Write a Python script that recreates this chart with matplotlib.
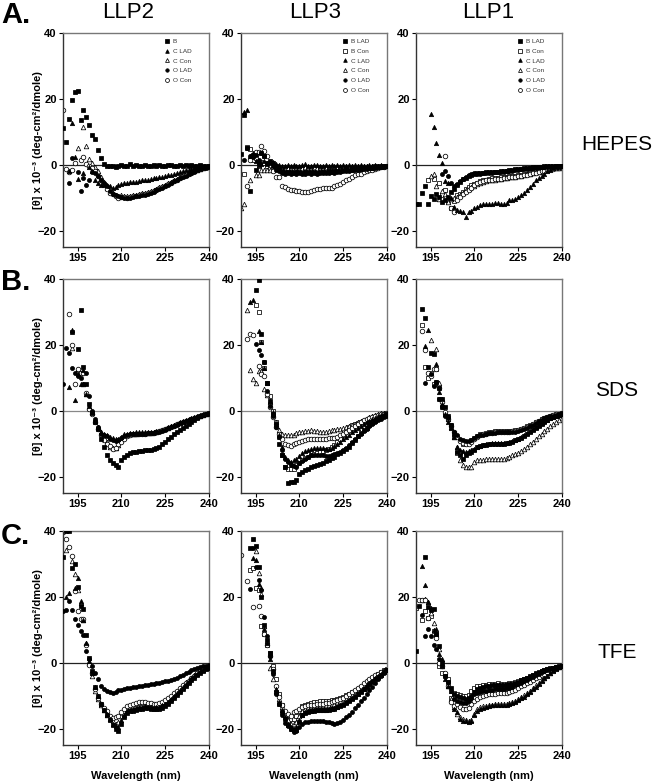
import numpy as np
import matplotlib
matplotlib.use('Agg')
import matplotlib.pyplot as plt

plt.rcParams['font.family'] = ['Liberation Sans', 'DejaVu Sans']

wavelength = np.arange(190, 241)
N = None

# ---------------- Row A: HEPES ----------------
# LLP2
A1_B = [11, 7, 14, 19.6, 22, 22.5, 13.7, 16.6, 14.6, 12,
        9, 7.8, 4.5, 2.1, 0.3, -0.4, -0.5, -0.3, -0.6, -0.4,
        -0.2, -0.5, -0.3, 0.1, -0.4, -0.2, -0.5, -0.3, -0.1, -0.4,
        -0.3, 0, -0.4, -0.2, -0.3, -0.5, -0.2, -0.1, -0.4, -0.3,
        -0.2, -0.4, 0, -0.3, -0.2, -0.4, -0.3, -0.1, -0.3, -0.4, -0.3]
A1_CLAD = [N, N, -2, 12.6, 2.3, -4.2, N, -2.4, N, -0.7,
           -2, -4.7, -5.5, -6.2, -6.3, -6.2, -6.5, -7, -6.8, -6.3,
           -5.8, -5.7, -5.5, -5.4, -5.3, -5.2, -5, -4.8, -4.7, -4.5,
           -4.3, -4.1, -4, -3.8, -3.6, -3.4, -3.2, -3, -2.7, -2.4,
           -2.1, -1.9, -1.7, -1.5, -1.3, -1.1, -1, -0.8, -0.7, -0.6, -0.5]
A1_CCon = [N, N, N, N, N, 5, N, 11.4, 5.6, 1.8,
           0.6, -0.7, -2, -3.7, -5.2, -7, -8.3, -8.6, -9.3, -9.5,
           -9.2, -9.4, -9.6, -9.5, -9.2, -9.1, -9, -8.7, -8.6, -8.3,
           -8, -7.7, -7.3, -6.9, -6.5, -6.1, -5.7, -5.3, -4.8, -4.3,
           -3.8, -3.4, -3, -2.6, -2.2, -1.9, -1.5, -1.2, -1, -0.8, -0.6]
A1_OLAD = [N, N, -5.7, 1.9, N, -2.2, -8, -4, -6.2, -4.7,
           -2.2, -2.5, -3.5, -4.5, -5.5, -6.5, -8, -8.8, -9.2, -9.6,
           -9.7, -10, -10.1, -10, -9.8, -9.6, -9.5, -9.3, -9.1, -8.9,
           -8.5, -8.2, -7.8, -7.4, -7, -6.6, -6.1, -5.6, -5.1, -4.6,
           -4.1, -3.6, -3.3, -2.9, -2.5, -2.1, -1.7, -1.4, -1.1, -0.9, -0.7]
A1_OCon = [16.7, -1.2, -2.2, -1.5, 0.5, N, 1.5, 2.3, 0.3, -0.4,
           -1, -2, -3.5, -4.7, -6, -7.5, -8.5, -9, -9.5, -10,
           -9.8, -9.8, -10, -9.8, -9.5, -9.5, -9.3, -9, -9, -8.7,
           -8.3, -8, -7.6, -7.2, -6.8, -6.4, -6, -5.5, -5, -4.5,
           -4, -3.5, -3.2, -2.8, -2.4, -2, -1.6, -1.3, -1, -0.8, -0.6]
# LLP3
A2_BLAD = [3.1, 15, 5, -8, 3, -1.7, 0.5, 3.5, 2.5, 0.3,
           1, 0.5, -0.5, -1.2, -1.8, -2.1, -2.3, -2.2, -2.4, -2.3,
           -2.2, -2.4, -2.3, -2.1, -2.3, -2.2, -2.4, -2.2, -2.1, -2.2,
           -2, -2.1, -1.9, -1.8, -1.9, -1.7, -1.6, -1.6, -1.5, -1.4,
           -1.3, -1.2, -1.1, -1, -0.9, -0.9, -0.8, -0.7, -0.6, -0.5, -0.5]
A2_BCon = [N, -2.7, 5.5, 4.8, 1.3, 2, -0.5, 0.8, 0.5, -0.5,
           -1, -1.2, -1.1, -1.3, -1.2, -1.4, -1.3, -1.2, -1.4, -1.3,
           -1.2, -1.3, -1.1, -1.3, -1.2, -1.4, -1.2, -1.3, -1.1, -1.2,
           -1.2, -1.1, -1.2, -1, -1.1, -1, -0.9, -1, -0.9, -0.8,
           -0.8, -0.7, -0.8, -0.7, -0.6, -0.6, -0.5, -0.5, -0.4, -0.4, -0.4]
A2_CLAD = [N, 16, 16.5, 2.5, 3.5, 1, 0, 0.3, 1, 0.5,
           0.8, 0.8, 0.3, 0, -0.3, -0.5, -0.2, -0.4, -0.1, -0.3,
           -0.5, -0.2, 0.1, -0.3, -0.4, 0, -0.2, -0.5, -0.3, -0.1,
           -0.4, -0.2, -0.3, 0, -0.3, -0.2, -0.4, -0.1, -0.3, -0.2,
           -0.3, -0.2, -0.4, -0.3, -0.2, -0.3, -0.2, -0.3, -0.2, -0.3, -0.3]
A2_CCon = [-13.3, -11.8, N, -4.7, N, -3.2, -3.2, -1.5, -1.7, -1.7,
           -1.5, -1.5, -1, -0.8, -0.9, -0.7, -0.9, -0.8, -1, -0.8,
           -0.7, -0.9, -0.8, -0.6, -0.8, -0.7, -0.9, -0.7, -0.8, -0.6,
           -0.7, -0.8, -0.6, -0.7, -0.6, -0.7, -0.5, -0.6, -0.5, -0.6,
           -0.5, -0.4, -0.5, -0.4, -0.5, -0.4, -0.3, -0.4, -0.3, -0.3, -0.3]
A2_OLAD = [N, 1.5, 5, 2.5, 2.3, 3, 1.5, 3.5, 2.5, 0.5,
           0.5, -0.5, -1.5, -2, -2.5, -2.7, -2.6, -2.8, -2.5, -2.7,
           -2.6, -2.8, -2.7, -2.5, -2.7, -2.6, -2.7, -2.5, -2.6, -2.4,
           -2.5, -2.3, -2.4, -2.2, -2.1, -2, -1.9, -1.8, -1.7, -1.6,
           -1.5, -1.4, -1.3, -1.2, -1.1, -1, -0.9, -0.8, -0.7, -0.6, -0.5]
A2_OCon = [N, N, -6.5, 1.5, 2.5, 4, 3.8, 5.8, 4.1, 2.6,
           0, -2, -3.7, -3.7, -6.4, -6.7, -7.3, -7.6, -7.8, -8,
           -8.1, -8.3, -8.4, -8.3, -8.1, -7.7, -7.5, -7.3, -7.2, -7.2,
           -7.1, -7, -6.5, -6.3, -6, -5.4, -4.8, -4.3, -3.7, -3.2,
           -2.9, -2.7, -2.3, -2, -1.7, -1.5, -1.2, -1, -0.8, -0.6, -0.4]
# LLP1
A3_BLAD = [-11.8, -11.8, -8.6, -6.4, -11.8, -9.5, -10.5, -8.8, -9.8, -11.3,
           -10.8, -9.8, -8.3, -7.3, -6.2, -5.2, -4.4, -3.9, -3.4, -3,
           -2.7, -2.6, -2.5, -2.4, -2.3, -2.2, -2.2, -2.1, -2.1, -2,
           -1.9, -1.8, -1.7, -1.6, -1.4, -1.3, -1.2, -1.1, -1, -0.9,
           -0.8, -0.7, -0.6, -0.6, -0.5, -0.5, -0.4, -0.4, -0.4, -0.3, -0.3]
A3_BCon = [N, N, N, N, -4.7, N, -4.2, N, -5.5, -9.3,
           -7.8, -11, -13.3, -11, -9.3, -8.8, -8.3, -7.3, -6.8, -6.2,
           -5.8, -5.5, -5.1, -4.7, -4.5, -4.2, -4.1, -3.9, -3.9, -3.8,
           -3.7, -3.6, -3.5, -3.4, -3.3, -3.2, -3, -2.9, -2.7, -2.4,
           -2.2, -2, -1.8, -1.6, -1.4, -1.2, -1.1, -0.9, -0.8, -0.7, -0.6]
A3_CLAD = [N, N, N, N, N, 15.4, 11.4, 6.6, 2.8, 0.5,
           -5, -5.5, -10, -13, -13.8, -14, -14.5, -15.8, -14.3, -14,
           -13.3, -12.8, -12.2, -11.8, -12, -12, -11.8, -11.5, -11.7, -11.8,
           -12, -11.5, -10.8, -10.7, -10.5, -9.8, -9.3, -8.5, -7.6, -6.8,
           -5.8, -4.8, -4, -3.5, -2.8, -2, -1.5, -1.1, -0.8, -0.6, -0.5]
A3_CCon = [N, N, N, N, N, -3.4, -2.9, -6.4, -10.3, -8,
           -9, -11.3, -10.5, -10, -9.8, -9.2, -8.5, -7.8, -7.3, -6.8,
           -6.4, -6, -5.6, -5.3, -5, -4.8, -4.6, -4.5, -4.3, -4.2,
           -4.1, -4, -3.8, -3.7, -3.6, -3.5, -3.3, -3.1, -2.9, -2.7,
           -2.5, -2.3, -2.1, -1.9, -1.7, -1.5, -1.3, -1.1, -1, -0.9, -0.8]
A3_OLAD = [N, N, N, N, N, N, N, N, N, -2.7,
           -2, -3.5, -5.5, -6.5, -6, -5, -4.2, -3.7, -3.2, -2.8,
           -2.6, -2.8, -2.7, -2.6, -2.5, -2.4, -2.4, -2.3, -2.3, -2.2,
           -2.1, -2, -1.9, -1.8, -1.6, -1.5, -1.4, -1.3, -1.2, -1.1,
           -1, -0.9, -0.8, -0.8, -0.7, -0.7, -0.6, -0.6, -0.5, -0.5, -0.4]
A3_OCon = [N, N, N, N, N, N, N, N, N, N,
           2.5, N, -13.3, -14.3, -10.8, -9.8, -9, -8.3, -7.6, -7,
           -6.2, -5.6, -5.2, -4.9, -4.7, -4.6, -4.5, -4.4, -4.3, -4.2,
           -4, -3.9, -3.8, -3.7, -3.6, -3.5, -3.4, -3.2, -3, -2.8,
           -2.6, -2.4, -2.2, -2, -1.8, -1.6, -1.4, -1.3, -1.1, -1, -0.9]

# ---------------- Row B: SDS ----------------
B1_B = [N, N, N, 24, N, 18.8, 30.5, 13.4, 8, 2,
        -0.7, -3.5, -5.5, -8.5, -11, -13.6, -15, -16, -16.5, -17,
        -15, -14, -13.5, -13, -12.6, -12.4, -12.2, -12.1, -12, -11.9,
        -11.8, -11.6, -11.3, -11, -10.2, -9.4, -8.7, -8, -7.2, -6.4,
        -5.8, -5.2, -4.5, -3.9, -3.3, -2.7, -2.1, -1.6, -1.3, -1, -0.7]
B1_CLAD = [N, N, 7.2, 24.4, 3.3, 11, 8, 12.5, 5, 1.5,
           -0.5, -3, -5, -6.5, -7, -7.5, -8, -8.3, -8.7, -8.5,
           -8, -7.2, -7, -6.8, -6.7, -6.6, -6.6, -6.5, -6.6, -6.5,
           -6.5, -6.4, -6.3, -6.1, -5.8, -5.5, -5.1, -4.7, -4.3, -3.9,
           -3.5, -3.2, -2.9, -2.6, -2.3, -2, -1.7, -1.4, -1.1, -0.9, -0.7]
B1_CCon = [N, N, N, 18.9, N, 12.6, 11.5, 8, 5, 1,
           -0.5, -3, -5, -6.5, -8.5, -9.5, -11, -11.4, -11.4, -10.5,
           -9, -8, -7.5, -7.2, -7, -7, -6.9, -6.8, -6.8, -6.8,
           -6.7, -6.6, -6.4, -6.2, -5.9, -5.6, -5.2, -4.8, -4.4, -4,
           -3.6, -3.3, -3, -2.7, -2.4, -2.1, -1.8, -1.5, -1.2, -1, -0.8]
B1_OLAD = [8, 19, 17.6, 13, 11.4, 10.6, 10, 8, 11.6, 4.5,
           0, -2.5, -5, -7, -7.5, -7.8, -8.5, -9, -9.2, -9,
           -8.4, -7.8, -7.4, -7.2, -7, -7, -7, -7, -7, -6.9,
           -6.9, -6.8, -6.6, -6.4, -6.1, -5.8, -5.4, -5, -4.6, -4.2,
           -3.8, -3.4, -3.1, -2.8, -2.5, -2.2, -1.9, -1.6, -1.3, -1.1, -0.9]
B1_OCon = [N, N, 29.3, 20, 8, 12.6, 11.4, 11.5, 5.5, 0.5,
           -1, -3.5, -5.5, -7.5, -9, -10, -10.8, -11.5, -11.2, -10.2,
           -9.5, -8.5, -7.8, -7.4, -7.2, -7.1, -7, -7, -7, -6.9,
           -6.8, -6.7, -6.5, -6.3, -6, -5.7, -5.3, -4.9, -4.5, -4.1,
           -3.7, -3.4, -3.1, -2.8, -2.5, -2.2, -1.9, -1.6, -1.3, -1.1, -0.9]

B2_BLAD = [N, N, N, N, N, 36.7, 39.7, 23.4, 14.8, 8.5,
           3, -1, -4, -10, -13.6, -17, -22, -21.8, -21.8, -20.9,
           -19.3, -18.6, -18, -17.6, -17, -16.8, -16.5, -16.2, -15.8, -15.4,
           -14.9, -14.5, -14, -13.3, -12.8, -12.2, -11.6, -10.9, -9.8, -8.8,
           -7.7, -6.8, -6, -5.2, -4.4, -3.7, -3.1, -2.5, -2, -1.5, -1.1]
B2_BCon = [N, N, N, N, N, 32.2, 30, 20.8, 12.9, 8.5,
           4.5, 0, -3.5, -8, -13.6, -17, -17.8, -17.8, -17.8, -16.6,
           -15.8, -15, -14.4, -14, -13.6, -13.3, -12.9, -12.4, -12.2, -12,
           -11.6, -11, -10.3, -9.6, -8.6, -7.4, -6.3, -5, -4.3, -3.9,
           -3.6, -3.3, -3, -2.7, -2.4, -2.1, -1.8, -1.5, -1.2, -1, -0.8]
B2_CLAD = [N, N, N, 32.9, 33.5, N, 24.1, 21, 13, 8.5,
           3, -0.5, -4, -7.5, -11, -14, -15, -15.5, -15, -14.6,
           -13.8, -12.8, -12.2, -11.8, -11.5, -11.4, -11.2, -11.2, -11.3, -11.5,
           -11.5, -11.2, -10.8, -10.2, -9.5, -8.7, -8, -7.3, -6.6, -5.9,
           -5.2, -4.6, -4, -3.5, -3, -2.5, -2.1, -1.7, -1.3, -1, -0.8]
B2_CCon = [N, N, 30.7, 12.4, 9.5, 8.3, 12, 12.1, 6.7, 4.7,
           2.5, -1, -3.5, -6, -7, -7.5, -7.5, -7.4, -7.3, -6.8,
           -6.5, -6.4, -6.3, -6.2, -6, -6.1, -6.2, -6.4, -6.5, -6.4,
           -6.2, -6, -5.9, -5.7, -5.6, -5.3, -5, -4.7, -4.3, -3.9,
           -3.5, -3.2, -2.8, -2.4, -2, -1.7, -1.3, -1.1, -0.8, -0.6, -0.5]
B2_OLAD = [N, N, N, N, N, 20.3, 18.4, 16.8, 14.8, 6,
           1.5, -1.5, -5, -8, -12, -14.6, -15.6, -16.6, -16.8, -17,
           -16, -15.2, -14.6, -14, -13.6, -13.6, -13.4, -13.5, -13.6, -13.7,
           -13.7, -13.5, -13.3, -12.9, -12.4, -11.9, -11.2, -10.3, -9.4, -8.6,
           -7.8, -7, -6.2, -5.5, -4.8, -4, -3.4, -2.8, -2.4, -1.9, -1.5]
B2_OCon = [N, N, 21.8, 23.4, 23.1, N, 13.6, 11, 10.6, 5,
           1, -2, -5, -7, -8.5, -10, -10.3, -10.8, -10.2, -9.7,
           -9.4, -9.1, -8.9, -8.7, -8.5, -8.5, -8.5, -8.5, -8.5, -8.5,
           -8.3, -8.2, -8.2, -7.9, -7.5, -7, -6.4, -5.8, -5.2, -4.6,
           -4, -3.4, -2.9, -2.5, -2.1, -1.8, -1.5, -1.3, -1.1, -0.9, -0.8]

B3_BLAD = [N, N, 30.9, 28.1, 13.4, 17.6, 17.3, 8.7, 7, 3.5,
           1, -1.5, -4.3, -7, -12.4, -13.6, -14.6, -13.6, -13, -12.6,
           -11.8, -11, -10.7, -10.5, -10.3, -10.2, -10.1, -10, -10, -10,
           -10, -9.9, -9.7, -9.4, -9, -8.7, -8.2, -7.6, -7.1, -6.5,
           -5.9, -5.2, -4.5, -3.9, -3.3, -2.8, -2.3, -2, -1.6, -1.3, -1.1]
B3_BCon = [N, N, 26.1, 13.4, 10, 11.6, 8, 12.6, 3.5, 1,
           -1, -2.3, -4.5, -8, -13, -12.5, -10, -9.5, -9.5, -9,
           -8.3, -7.6, -7.2, -7, -6.7, -6.6, -6.5, -6.3, -6.2, -6.3,
           -6.3, -6.3, -6.2, -6.1, -6, -5.8, -5.6, -5.2, -4.8, -4.4,
           -4, -3.5, -3, -2.6, -2.2, -1.9, -1.6, -1.4, -1.1, -0.9, -0.8]
B3_CLAD = [N, N, N, 19.8, 24.6, N, N, 14.1, 5.7, 1.9,
           -1, -3.3, -5.3, -8, -11, -12, -12.2, -12.5, -12.3, -12,
           -11.5, -11, -10.6, -10.4, -10.2, -10, -9.9, -9.8, -9.8, -9.8,
           -9.8, -9.7, -9.5, -9.2, -8.8, -8.5, -8, -7.4, -6.9, -6.3,
           -5.7, -5, -4.4, -3.8, -3.2, -2.7, -2.2, -1.9, -1.5, -1.2, -1]
B3_CCon = [N, N, N, N, N, 21.4, N, 18.6, 8.5, 3.5,
           -0.5, -2.5, -5, -8, -11, -15.1, -16.6, -17.1, -17.1, -17.1,
           -15.6, -15.1, -15, -14.9, -14.7, -14.6, -14.6, -14.6, -14.6, -14.7,
           -14.8, -14.4, -14, -13.6, -13.3, -12.8, -12.3, -11.6, -10.9, -10.2,
           -9.4, -8.5, -7.8, -7.2, -6.3, -5.5, -4.6, -4, -3.3, -2.8, -2.3]
B3_OLAD = [N, N, N, 8.3, N, 11, 7.5, 8.7, 3.5, 1,
           -1.5, -2.3, -4.3, -6.5, -7.5, -8.5, -9, -9.2, -9.2, -8.8,
           -8.2, -7.8, -7.5, -7.3, -7, -6.9, -6.8, -6.7, -6.6, -6.6,
           -6.6, -6.6, -6.6, -6.5, -6.5, -6.3, -6, -5.6, -5.2, -4.7,
           -4.3, -3.7, -3.2, -2.7, -2.3, -2, -1.7, -1.5, -1.2, -1, -0.8]
B3_OCon = [N, N, 24.1, 18.4, 11.6, 10.5, 12.6, 12.6, 7, 2.5,
           -0.5, -2.5, -4.5, -6.5, -8, -9.2, -9.8, -10, -10, -9.5,
           -8.7, -8, -7.5, -7.2, -7, -6.8, -6.7, -6.6, -6.5, -6.5,
           -6.6, -6.5, -6.4, -6.3, -6.2, -6, -5.7, -5.4, -5, -4.5,
           -4, -3.5, -3, -2.6, -2.2, -1.9, -1.6, -1.3, -1.1, -0.9, -0.7]

# ---------------- Row C: TFE ----------------
C1_B = [32, 40, 40, 28.7, 30, 23, 17.3, 16.3, 8.3, 1.5,
        -2.5, -7.5, -10, -12.5, -14.5, -16, -17.5, -19, -20.1, -20.6,
        -18.5, -16.5, -15.3, -14.8, -14.6, -14.3, -14.2, -14, -13.9, -13.9,
        -14, -14.2, -14.2, -14.1, -13.7, -13.2, -12.5, -11.6, -10.7, -9.8,
        -8.9, -8.1, -7.1, -6.2, -5.3, -4.5, -3.7, -3, -2.4, -1.9, -1.5]
C1_CLAD = [N, 20.1, 21.1, N, 22.7, 25.7, 18.6, 13, 6, 0.5,
           -3.2, -7.5, -10, -12.5, -14.3, -15.5, -17, -18.5, -19.2, -19.5,
           -17.5, -15.8, -14.8, -14.3, -14, -13.8, -13.6, -13.4, -13.3, -13.4,
           -13.5, -13.7, -13.6, -13.4, -13, -12.5, -11.8, -11, -10.1, -9.2,
           -8.3, -7.4, -6.5, -5.6, -4.8, -4, -3.3, -2.6, -2.1, -1.6, -1.3]
C1_CCon = [N, 34.2, N, 31, 27, 22, 18, 13, 6, 0,
           -4, -8.5, -11, -13, -14.5, -15.8, -17, -17.6, -18.6, -18.1,
           -16.1, -14.6, -14.1, -13.6, -13.3, -13.1, -13, -12.9, -12.9, -13,
           -13.1, -13.1, -13, -12.9, -12.7, -12.4, -11.5, -10.6, -9.6, -8.6,
           -7.6, -6.7, -5.9, -5.2, -4.5, -3.8, -3.2, -2.6, -2, -1.6, -1.2]
C1_OLAD = [15.6, 15.9, 18.6, 16.1, 13.3, 11.6, 9.6, 8.3, 3.5, 1,
           -1, -3, -5, -7, -8, -8.6, -9, -9.3, -8.9, -8.4,
           -8.2, -8, -7.8, -7.6, -7.5, -7.4, -7.2, -7.1, -6.9, -6.8,
           -6.6, -6.4, -6.3, -6.1, -5.9, -5.7, -5.5, -5.2, -4.9, -4.5,
           -4.1, -3.6, -3.2, -2.8, -2.3, -1.9, -1.6, -1.3, -1.1, -1, -0.8]
C1_OCon = [39.8, 37.6, 35, 32.4, 21.7, 15.6, 13.3, 13.3, 5.5, -0.8,
           -3, -8, -10.6, -12.5, -13.8, -14.6, -16.1, -16.9, -16.6, -16.1,
           -15, -14, -13.3, -12.8, -12.4, -12.1, -12, -11.9, -12, -12.1,
           -12.2, -12.5, -12.5, -12.3, -12, -11.4, -10.8, -10.1, -9.3, -8.5,
           -7.6, -6.9, -6.2, -5.5, -4.8, -3.9, -3, -2.4, -1.9, -1.5, -1.2]

C2_BLAD = [N, N, N, 34.8, 37.5, 35.5, 29, 20.1, 11.6, 7,
           3, -2.5, -9, -12.6, -15, -17, -19, -20, -20.5, -20.3,
           -18, -16, -15.3, -15, -14.8, -14.6, -14.5, -14.4, -14.4, -14.3,
           -14.3, -14.2, -14, -13.6, -13.2, -12.7, -12.2, -11.7, -11, -10.3,
           -9.6, -8.9, -8.1, -7.3, -6.6, -5.8, -5.1, -4.3, -3.6, -2.9, -2.3]
C2_BCon = [N, N, N, 28.2, 28.7, 22.7, 22.2, 11.1, 8.6, 5.5,
           3, -1, -5, -9.6, -13, -16, -17, -17.2, -17, -16.2,
           -14.8, -13.3, -12.7, -12.4, -12.1, -11.9, -11.8, -11.7, -11.6, -11.6,
           -11.6, -11.4, -11.2, -11, -10.7, -10.3, -9.9, -9.5, -9, -8.5,
           -8, -7.4, -6.8, -6.2, -5.5, -4.8, -4.1, -3.4, -2.8, -2.3, -1.9]
C2_CLAD = [N, N, N, N, 31.7, 31.2, 24, 22.7, 10.1, 6,
           1, -2.5, -8, -11.8, -14.5, -16.5, -18.5, -19.5, -20, -19.5,
           -17.5, -15.8, -15, -14.8, -14.6, -14.5, -14.4, -14.3, -14.3, -14.3,
           -14.2, -14, -13.8, -13.4, -13, -12.5, -12, -11.4, -10.8, -10.1,
           -9.4, -8.7, -7.9, -7.1, -6.3, -5.5, -4.7, -4, -3.3, -2.6, -2.1]
C2_CCon = [N, N, N, N, N, 34, 27.2, 21, 11, 6.5,
           -1.5, -5, -8.5, -11, -13.5, -16, -17.5, -18.5, -18.6, -18,
           -16.3, -14.8, -14, -13.6, -13.3, -13.1, -13, -12.9, -12.9, -12.9,
           -12.8, -12.6, -12.4, -12, -11.6, -11.1, -10.6, -10, -9.4, -8.7,
           -8, -7.3, -6.6, -5.9, -5.2, -4.5, -3.9, -3.3, -2.7, -2.2, -1.8]
C2_OLAD = [N, N, N, 22.4, 34.8, 29.2, 25, 22.2, 13.8, 8,
           2, -3.5, -9.6, -12.6, -16, -18.3, -19.1, -20, -21, -20.7,
           -19.5, -18.6, -18.1, -17.9, -17.7, -17.6, -17.6, -17.6, -17.7, -17.9,
           -18.1, -18.3, -18.5, -18.4, -17.9, -17.3, -16.6, -15.8, -14.9, -13.9,
           -12.8, -11.7, -10.6, -9.5, -8.4, -7.3, -6.2, -5.1, -4.1, -3.1, -2.3]
C2_OCon = [32.7, N, 24.7, N, 16.9, N, 17.3, 14.3, 8.6, 5.5,
           2, -2, -7, -10.5, -13, -14.6, -15.6, -16.1, -15.1, -14.6,
           -14, -13.6, -13.3, -13, -12.8, -12.7, -12.6, -12.6, -12.4, -12.3,
           -12.2, -12, -11.7, -11.4, -11.1, -10.6, -10.2, -9.6, -8.9, -8.3,
           -7.6, -7, -6.3, -5.7, -5, -4.4, -3.8, -3.3, -2.9, -2.5, -2.2]

C3_BLAD = [3.5, 17.1, N, 32, 16.9, 16.1, 16.3, 8.6, 5, 0,
           -4, -6, -7.6, -9.5, -10.2, -10.5, -10.8, -11, -10.8, -10,
           -8.8, -8, -7.6, -7.3, -7.1, -7, -6.9, -6.8, -6.7, -6.7,
           -6.8, -6.8, -6.6, -6.4, -6.1, -5.8, -5.4, -5, -4.5, -4,
           -3.6, -3.2, -2.8, -2.5, -2.2, -1.9, -1.7, -1.5, -1.3, -1.1, -1]
C3_BCon = [16.6, N, 13.1, 15.6, 13.6, 14.1, 9.6, 8.6, -1, -3.2,
           -3.5, -5, -10.6, -9.1, -9.6, -9.8, -10.1, -10.1, -9.9, -8.6,
           -7.6, -7.2, -7, -6.8, -6.7, -6.6, -6.5, -6.4, -6.3, -6.4,
           -6.5, -6.4, -6.3, -6.2, -5.9, -5.7, -5.3, -5, -4.6, -4.2,
           -3.8, -3.4, -3, -2.6, -2.3, -2, -1.8, -1.6, -1.4, -1.2, -1]
C3_CLAD = [N, N, 29.5, 23.7, 18.3, 16.5, 10, 10.1, 2.5, 1,
           -5, -7, -8.6, -14.1, -15.1, -17.1, -17.6, -17.8, -17.9, -17.8,
           -16, -14.6, -14.1, -13.8, -13.6, -13.2, -13, -12.9, -12.8, -12.8,
           -12.9, -12.8, -12.4, -12.1, -11.8, -11.4, -10.8, -10.3, -9.6, -8.9,
           -8.1, -7.3, -6.4, -5.5, -4.7, -3.9, -3.1, -2.4, -1.8, -1.4, -1]
C3_CCon = [N, N, 19.1, 19.4, 18.3, 15, 12, 8.6, 4.2, -1,
           -3.5, -7, -11, -13.5, -15.5, -16.5, -17.2, -17.5, -17.6, -17.4,
           -15.6, -14.2, -13.6, -13.3, -13.1, -12.9, -12.7, -12.6, -12.5, -12.5,
           -12.6, -12.5, -12.1, -11.8, -11.5, -11, -10.5, -9.9, -9.2, -8.5,
           -7.7, -6.9, -6.1, -5.3, -4.5, -3.7, -3, -2.3, -1.7, -1.3, -1]
C3_OLAD = [N, N, 14.6, 8, 10.1, 8, 5.5, 4.2, 1, -1,
           -4, -6, -8.6, -11.1, -11.6, -11.9, -12.1, -12.1, -11.6, -10.6,
           -9.6, -9.2, -8.9, -8.7, -8.5, -8.3, -8.2, -8.1, -8, -7.9,
           -7.9, -7.8, -7.6, -7.3, -6.9, -6.5, -6.1, -5.6, -5.2, -4.7,
           -4.2, -3.7, -3.3, -2.9, -2.5, -2.2, -1.9, -1.6, -1.4, -1.2, -1]
C3_OCon = [N, 19.1, 19.1, 19.1, 13.6, N, N, 7.6, 0, -1,
           -3.2, -7, -11.9, -13.1, -12.6, -13.6, -14.1, -14.1, -13.9, -12.6,
           -11.6, -10.9, -10.5, -10.1, -9.8, -9.6, -9.5, -9.4, -9.2, -9.2,
           -9.3, -9.2, -8.9, -8.6, -8.3, -7.6, -7.2, -6.8, -6.3, -5.8,
           -5.3, -4.8, -4.3, -3.8, -3.3, -2.8, -2.3, -1.9, -1.6, -1.3, -1]

col_titles = ['LLP2', 'LLP3', 'LLP1']
row_titles = ['HEPES', 'SDS', 'TFE']
row_letters = ['A.', 'B.', 'C.']
xticks = [195, 210, 225, 240]
yticks = [-20, 0, 20, 40]

labels_llp2 = ['B', 'C LAD', 'C Con', 'O LAD', 'O Con']
labels_other = ['B LAD', 'B Con', 'C LAD', 'C Con', 'O LAD', 'O Con']

panels = [
    [(labels_llp2, [A1_B, A1_CLAD, A1_CCon, A1_OLAD, A1_OCon]),
     (labels_other, [A2_BLAD, A2_BCon, A2_CLAD, A2_CCon, A2_OLAD, A2_OCon]),
     (labels_other, [A3_BLAD, A3_BCon, A3_CLAD, A3_CCon, A3_OLAD, A3_OCon])],
    [(labels_llp2, [B1_B, B1_CLAD, B1_CCon, B1_OLAD, B1_OCon]),
     (labels_other, [B2_BLAD, B2_BCon, B2_CLAD, B2_CCon, B2_OLAD, B2_OCon]),
     (labels_other, [B3_BLAD, B3_BCon, B3_CLAD, B3_CCon, B3_OLAD, B3_OCon])],
    [(labels_llp2, [C1_B, C1_CLAD, C1_CCon, C1_OLAD, C1_OCon]),
     (labels_other, [C2_BLAD, C2_BCon, C2_CLAD, C2_CCon, C2_OLAD, C2_OCon]),
     (labels_other, [C3_BLAD, C3_BCon, C3_CLAD, C3_CCon, C3_OLAD, C3_OCon])],
]

styles = {
    'B': ('s', True, 2.7), 'B LAD': ('s', True, 2.7), 'B Con': ('s', False, 2.9),
    'C LAD': ('^', True, 3.1), 'C Con': ('^', False, 3.3),
    'O LAD': ('o', True, 2.9), 'O Con': ('o', False, 3.3),
}

W, H = 656, 783
fig = plt.figure(figsize=(W / 100, H / 100), dpi=100)

col_left = [63, 241, 416]
ax_w = 146
row_top = [33, 279, 531]
ax_h = 214
zero_colors = ['#222222', '#888888', '#222222']

for r in range(3):
    for c in range(3):
        ax = fig.add_axes([col_left[c] / W, 1 - (row_top[r] + ax_h) / H, ax_w / W, ax_h / H])
        labels, series = panels[r][c]
        ax.axhline(0, color=zero_colors[r], lw=0.9, zorder=1)
        order = [i for i, l in enumerate(labels) if 'Con' in l] + \
                [i for i, l in enumerate(labels) if 'Con' not in l]
        handles = {}
        for i in order:
            lab = labels[i]
            m, filled, ms = styles[lab]
            y = np.array(series[i], dtype=float)
            h, = ax.plot(wavelength, y, linestyle='none', marker=m, ms=ms,
                         mfc='black' if filled else 'white', mec='black', mew=0.55,
                         label=lab, zorder=3 if filled else 2)
            handles[lab] = h
        ax.set_xlim(190, 240)
        ax.set_ylim(-25, 40)
        ax.set_xticks(xticks)
        ax.set_yticks(yticks)
        ax.tick_params(direction='out', length=3, width=0.8, labelsize=8, pad=1.5,
                       top=False, right=False)
        for lab in ax.get_xticklabels() + ax.get_yticklabels():
            lab.set_fontweight('bold')
        for side in ['left', 'bottom']:
            ax.spines[side].set_color('#333333')
            ax.spines[side].set_linewidth(1.0)
        for side in ['top', 'right']:
            ax.spines[side].set_color('#777777')
            ax.spines[side].set_linewidth(1.0)
        if r == 0:
            leg = ax.legend([handles[l] for l in labels], labels, loc='upper left',
                            bbox_to_anchor=(0.66, 0.995), frameon=False, fontsize=4.6,
                            handlelength=1.0, handletextpad=0.4, labelspacing=0.68,
                            borderpad=0.2, markerscale=0.85)
            for t in leg.get_texts():
                t.set_color('#333333')
        if c == 0:
            cy = 1 - (row_top[r] + ax_h / 2) / H
            fig.text(38 / W, cy, '[θ] x 10⁻³ (deg-cm²/dmole)', rotation=90,
                     ha='center', va='center', fontsize=8, fontweight='bold')
        if r == 2:
            fig.text((col_left[c] + ax_w / 2) / W, 1 - 776 / H, 'Wavelength (nm)',
                     ha='center', va='center', fontsize=8, fontweight='bold')

title_x = [128, 315, 488]
for c in range(3):
    fig.text(title_x[c] / W, 1 - 12 / H, col_titles[c], ha='center', va='center', fontsize=16)

letter_y = [15, 282, 536]
for r in range(3):
    fig.text(1 / W, 1 - letter_y[r] / H, row_letters[r], ha='left', va='center',
             fontsize=21, fontweight='bold')

row_title_y = [144, 391, 652]
for r in range(3):
    fig.text(617 / W, 1 - row_title_y[r] / H, row_titles[r], ha='center', va='center', fontsize=15)

fig.savefig('out.png', dpi=100)
